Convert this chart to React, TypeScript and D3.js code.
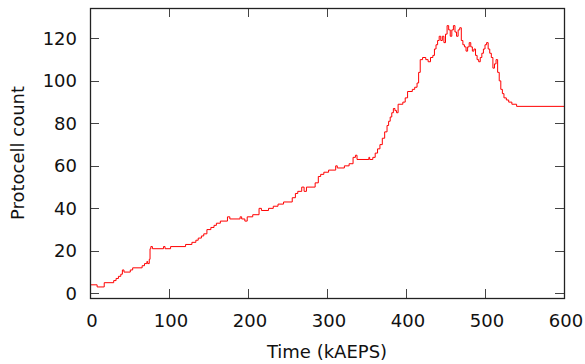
import React, { useRef, useEffect } from 'react';
import * as d3 from 'd3';

// time in kAEPS and the protocell count (step style)
const times = [
  0, 9, 18, 30, 33, 36, 39, 41, 43, 51, 54, 66, 69, 72, 73, 75, 76, 77, 79, 93, 95,
  102, 121, 129, 134, 137, 141, 144, 148, 153, 157, 160, 165, 174, 177, 190, 192, 196, 199,
  206, 214, 217, 226, 232, 238, 245, 256, 260, 263, 268, 271, 274, 285, 289, 292, 296,
  302, 311, 313, 322, 328, 333, 336, 338, 353, 354, 358, 361, 364, 367, 370, 373, 376,
  378, 380, 382, 384, 386, 388, 390, 396, 399, 402, 408, 411, 414, 416, 418, 421, 425,
  428, 431, 434, 436, 438, 440, 442, 444, 446, 448, 450, 452, 454, 456, 458, 460, 462,
  464, 466, 468, 470, 472, 474, 476, 478, 480, 482, 484, 486, 488, 490, 492, 494, 496,
  498, 500, 502, 504, 506, 508, 510, 512, 514, 516, 518, 520, 522, 524, 527, 530, 534,
  540, 600,
];
const counts = [
  4, 3, 5, 6, 7, 8, 9, 11, 10, 11, 12, 13, 14, 15, 14, 16, 21, 22, 21, 22, 21,
  22, 23, 24, 25, 26, 27, 28, 30, 31, 32, 33, 34, 36, 35, 36, 35, 34, 36,
  37, 40, 39, 40, 41, 42, 43, 45, 47, 48, 50, 48, 50, 52, 55, 56, 57,
  58, 60, 59, 60, 61, 64, 65, 63, 64, 63, 64, 66, 68, 70, 73, 76, 79,
  81, 83, 85, 87, 86, 85, 89, 90, 92, 95, 96, 97, 99, 104, 110, 111, 110,
  109, 111, 112, 115, 117, 119, 121, 119, 121, 118, 122, 126, 124, 121, 124, 126, 123,
  121, 124, 125, 119, 117, 116, 114, 116, 118, 116, 114, 115, 112, 110, 109, 111, 113,
  115, 117, 118, 115, 113, 111, 106, 108, 110, 104, 100, 96, 94, 92, 91, 90, 89,
  88, 88,
];
const xTicks = [0, 100, 200, 300, 400, 500, 600];
const yTicks = [0, 20, 40, 60, 80, 100, 120];

const W = 585;
const H = 364;
const left = 90, right = 564, top = 8, bottom = 298;
const FONT = '"DejaVu Sans", sans-serif';
const FS = '18px';

const App = () => {
  const svgRef = useRef<SVGSVGElement>(null);

  useEffect(() => {
    if (!svgRef.current) return;
    const svg = d3.select(svgRef.current);
    svg.selectAll('*').remove();

    const x = d3.scaleLinear().domain([0, 600]).range([left, right]);
    const y = d3.scaleLinear().domain([-2.2, 134.3]).range([bottom, top]);
    const data = times.map((t, i) => ({ t, v: counts[i] }));
    const tickLen = 9;

    // ticks on all four sides, pointing inward
    const g = svg.append('g').attr('stroke', '#444').attr('stroke-width', 1);
    yTicks.forEach((v) => {
      const yy = Math.round(y(v)) + 0.5;
      g.append('line').attr('x1', left).attr('x2', left + tickLen).attr('y1', yy).attr('y2', yy);
      g.append('line').attr('x1', right).attr('x2', right - tickLen).attr('y1', yy).attr('y2', yy);
    });
    xTicks.forEach((t) => {
      const xx = Math.round(x(t)) + 0.5;
      g.append('line').attr('x1', xx).attr('x2', xx).attr('y1', bottom).attr('y2', bottom - tickLen);
      g.append('line').attr('x1', xx).attr('x2', xx).attr('y1', top).attr('y2', top + tickLen);
    });

    // the trace
    const line = d3.line<{ t: number; v: number }>()
      .x((d) => x(d.t))
      .y((d) => y(d.v))
      .curve(d3.curveStepAfter);
    svg.append('path')
      .datum(data)
      .attr('d', line)
      .attr('fill', 'none')
      .attr('stroke', '#ff0000')
      .attr('stroke-width', 1);

    // frame
    svg.append('rect')
      .attr('x', left + 0.5).attr('y', top + 0.5)
      .attr('width', right - left).attr('height', bottom - top)
      .attr('fill', 'none').attr('stroke', '#222').attr('stroke-width', 1.3);

    // tick labels
    svg.selectAll('.ylab').data(yTicks).join('text')
      .attr('x', 77).attr('y', (d) => y(d) + 6.5)
      .attr('text-anchor', 'end')
      .style('font-family', FONT).style('font-size', FS).attr('fill', '#111')
      .text((d) => d);
    svg.selectAll('.xlab').data(xTicks).join('text')
      .attr('x', (d) => x(d) + 2).attr('y', 327)
      .attr('text-anchor', 'middle')
      .style('font-family', FONT).style('font-size', FS).attr('fill', '#111')
      .text((d) => d);

    // axis titles
    svg.append('text')
      .attr('x', (left + right) / 2).attr('y', 358)
      .attr('text-anchor', 'middle')
      .style('font-family', FONT).style('font-size', FS).attr('fill', '#111')
      .text('Time (kAEPS)');
    svg.append('text')
      .attr('transform', `translate(24,${(top + bottom) / 2}) rotate(-90)`)
      .attr('text-anchor', 'middle')
      .style('font-family', FONT).style('font-size', FS).attr('fill', '#111')
      .text('Protocell count');
  }, []);

  return (
    <svg
      ref={svgRef}
      width={W}
      height={H}
      style={{ position: 'absolute', left: 0, top: 0, background: '#fff' }}
    />
  );
};

export default App;
